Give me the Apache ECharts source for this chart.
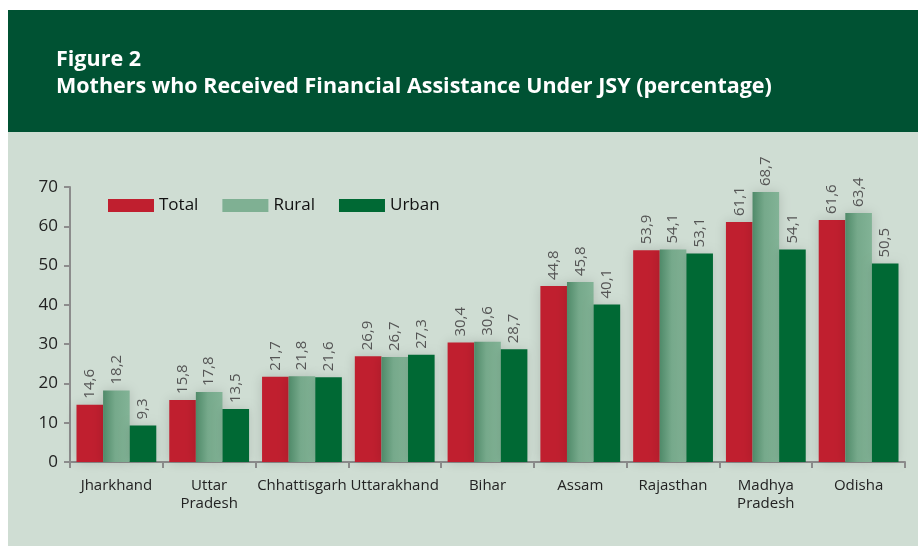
<!DOCTYPE html>
<html>
<head>
<meta charset="utf-8">
<style>
  html, body { margin: 0; padding: 0; background: #fff; }
  #chart { width: 922px; height: 550px; }
</style>
<script src="https://cdn.jsdelivr.net/npm/echarts@6/dist/echarts.min.js"></script>
</head>
<body>
<div id="chart"></div>
<script>
var states = ['Jharkhand', 'Uttar\nPradesh', 'Chhattisgarh', 'Uttarakhand', 'Bihar', 'Assam', 'Rajasthan', 'Madhya\nPradesh', 'Odisha']
var total = [14.6, 15.8, 21.7, 26.9, 30.4, 44.8, 53.9, 61.1, 61.6]
var rural = [18.2, 17.8, 21.8, 26.7, 30.6, 45.8, 54.1, 68.7, 63.4]
var urban = [9.3, 13.5, 21.6, 27.3, 28.7, 40.1, 53.1, 54.1, 50.5]

var chart = echarts.init(document.getElementById('chart'))

// value labels standing upright above each bar, comma decimal
function valueLabel () {
  return {
    show: true,
    position: 'top',
    rotate: 90,
    align: 'left',
    verticalAlign: 'middle',
    distance: 6,
    color: '#555',
    fontFamily: 'Open Sans',
    fontSize: 15,
    formatter: function (p) {
      return String(p.value.toFixed(1)).replace('.', ',')
    }
  }
}

var option = {
  backgroundColor: '#fff',
  animation: false,
  graphic: [
    {
      type: 'rect',
      silent: true,
      z: -10,
      shape: { x: 8, y: 132, width: 910, height: 414 },
      style: { fill: '#cfddd3' }
    },
    {
      type: 'rect',
      silent: true,
      z: -10,
      shape: { x: 8, y: 10, width: 910, height: 122 },
      style: { fill: '#005233' }
    },
    {
      type: 'text',
      left: 56,
      top: 46,
      style: {
        text: 'Figure 2\nMothers who Received Financial Assistance Under JSY (percentage)',
        fill: '#fff',
        font: 'bold 21.5px "Open Sans"',
        lineHeight: 27
      }
    }
  ],
  legend: {
    left: 103,
    top: 192,
    itemWidth: 46,
    itemHeight: 13,
    itemGap: 24,
    icon: 'rect',
    textStyle: { fontFamily: 'Open Sans', fontSize: 17, color: '#111' },
    data: [
      { name: 'Total', itemStyle: { color: '#c01f2f' } },
      { name: 'Rural', itemStyle: { color: '#7fb093' } },
      { name: 'Urban', itemStyle: { color: '#006934' } }
    ]
  },
  grid: {
    left: 70,
    right: 17,
    top: 187,
    bottom: 88,
    containLabel: false
  },
  xAxis: {
    type: 'category',
    data: states,
    axisLine: { lineStyle: { color: '#8c8c8c', width: 2 } },
    axisTick: { show: true, length: 6, lineStyle: { color: '#8c8c8c', width: 2 } },
    axisLabel: {
      interval: 0,
      margin: 15,
      color: '#222',
      fontFamily: 'Open Sans',
      fontSize: 15,
      lineHeight: 18
    }
  },
  yAxis: {
    type: 'value',
    min: 0,
    max: 70,
    interval: 10,
    axisLine: { show: true, lineStyle: { color: '#8c8c8c', width: 2 } },
    axisTick: { show: true, length: 6, lineStyle: { color: '#8c8c8c', width: 2 } },
    axisLabel: {
      margin: 12,
      color: '#222',
      fontFamily: 'Open Sans',
      fontSize: 17
    },
    splitLine: { show: false }
  },
  series: [
    {
      name: 'Total',
      type: 'bar',
      barGap: '0%',
      barCategoryGap: '14%',
      itemStyle: {
        color: '#c01f2f',
        shadowColor: 'rgba(0,0,0,0.15)',
        shadowBlur: 12
      },
      label: valueLabel(),
      data: total
    },
    {
      name: 'Rural',
      type: 'bar',
      itemStyle: {
        color: new echarts.graphic.LinearGradient(0, 0, 1, 0, [
          { offset: 0, color: '#4f8a69' },
          { offset: 0.45, color: '#76a98b' },
          { offset: 1, color: '#82b396' }
        ]),
        shadowColor: 'rgba(0,0,0,0.15)',
        shadowBlur: 12
      },
      label: valueLabel(),
      data: rural
    },
    {
      name: 'Urban',
      type: 'bar',
      itemStyle: {
        color: '#006934',
        shadowColor: 'rgba(0,0,0,0.12)',
        shadowBlur: 10
      },
      label: valueLabel(),
      data: urban
    }
  ]
}

chart.setOption(option)
window.addEventListener('resize', function () {
  chart.resize()
})
</script>
</body>
</html>
